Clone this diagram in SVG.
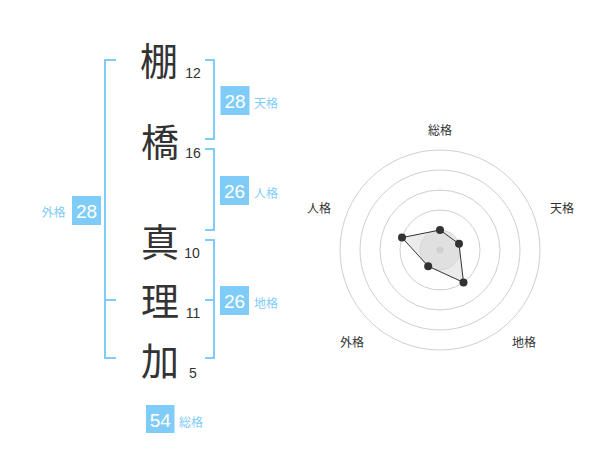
<svg xmlns="http://www.w3.org/2000/svg" width="600" height="470" viewBox="0 0 600 470">
<style>
.kanji{font-family:"Noto Sans CJK JP","Noto Sans CJK SC",sans-serif;font-size:38px;fill:#333;text-anchor:middle}
.stroke{font-family:"Liberation Sans",Arial,sans-serif;font-size:14px;fill:#333;text-anchor:middle}
.br{fill:none;stroke:#80ccf8;stroke-width:2}
.box{fill:#80ccf8}
.bn{font-family:"Liberation Sans",Arial,sans-serif;font-size:19px;fill:#fff;text-anchor:middle}
.bl{font-family:"Noto Sans CJK JP","Noto Sans CJK SC",sans-serif;font-size:12px;fill:#80ccf8}
.ring{fill:none;stroke:#cfcfcf;stroke-width:1}
.rl{font-family:"Noto Sans CJK JP","Noto Sans CJK SC",sans-serif;font-size:12px;fill:#333;text-anchor:middle}
</style>
<rect width="600" height="470" fill="#fff"/>
<g id="connectors">
<path class="br" d="M116,60H105V358H116M105,300H116"/>
<path class="br" d="M205,60H214V139H205"/>
<path class="br" d="M205,149H214V230H205"/>
<path class="br" d="M205,240H214V358H205M205,300H214"/>
</g>
<g id="char1"><text class="kanji" x="159" y="74.5">棚</text><text class="stroke" x="193" y="78">12</text></g>
<g id="char2"><text class="kanji" x="160" y="155.5">橋</text><text class="stroke" x="193" y="158">16</text></g>
<g id="char3"><text class="kanji" x="160" y="255.5">真</text><text class="stroke" x="192" y="258">10</text></g>
<g id="char4"><text class="kanji" x="160" y="314.5">理</text><text class="stroke" x="193" y="318">11</text></g>
<g id="char5"><text class="kanji" x="160" y="374.5">加</text><text class="stroke" x="193" y="378">5</text></g>
<g id="tenkaku"><rect class="box" x="220.5" y="86" width="29" height="29"/><text class="bn" x="235" y="108">28</text><text class="bl" x="254" y="107.5">天格</text></g>
<g id="jinkaku"><rect class="box" x="220" y="176" width="29" height="29"/><text class="bn" x="234.5" y="198">26</text><text class="bl" x="254" y="198">人格</text></g>
<g id="chikaku"><rect class="box" x="220" y="286" width="29" height="29"/><text class="bn" x="234.5" y="308">26</text><text class="bl" x="254" y="308">地格</text></g>
<g id="gaikaku"><rect class="box" x="72" y="196" width="29" height="29"/><text class="bn" x="86.5" y="218">28</text><text class="bl" x="41.5" y="217">外格</text></g>
<g id="soukaku"><rect class="box" x="146" y="405" width="28.5" height="28"/><text class="bn" x="160.2" y="427">54</text><text class="bl" x="179" y="427">総格</text></g>
<g id="radar">
<circle cx="440" cy="250" r="20" fill="#e9e9e9" stroke="#d4d4d4"/>
<circle class="ring" cx="440" cy="250" r="40"/>
<circle class="ring" cx="440" cy="250" r="60"/>
<circle class="ring" cx="440" cy="250" r="80"/>
<circle class="ring" cx="440" cy="250" r="100"/>
<circle cx="440" cy="250" r="3.5" fill="#c8c8c8"/>
<polygon points="440,230 459,243.8 463.5,282.4 428.2,266.2 402,237.6" fill="#d8d8d8" fill-opacity="0.5" stroke="#333" stroke-width="1"/>
<g fill="#333">
<circle cx="440" cy="230" r="4"/>
<circle cx="459" cy="243.8" r="4"/>
<circle cx="463.5" cy="282.4" r="4"/>
<circle cx="428.2" cy="266.2" r="4"/>
<circle cx="402" cy="237.6" r="4"/>
</g>
<text class="rl" x="440" y="134.5">総格</text>
<text class="rl" x="562" y="212.5">天格</text>
<text class="rl" x="524" y="346.5">地格</text>
<text class="rl" x="352" y="346.5">外格</text>
<text class="rl" x="319" y="212.5">人格</text>
</g>
</svg>
